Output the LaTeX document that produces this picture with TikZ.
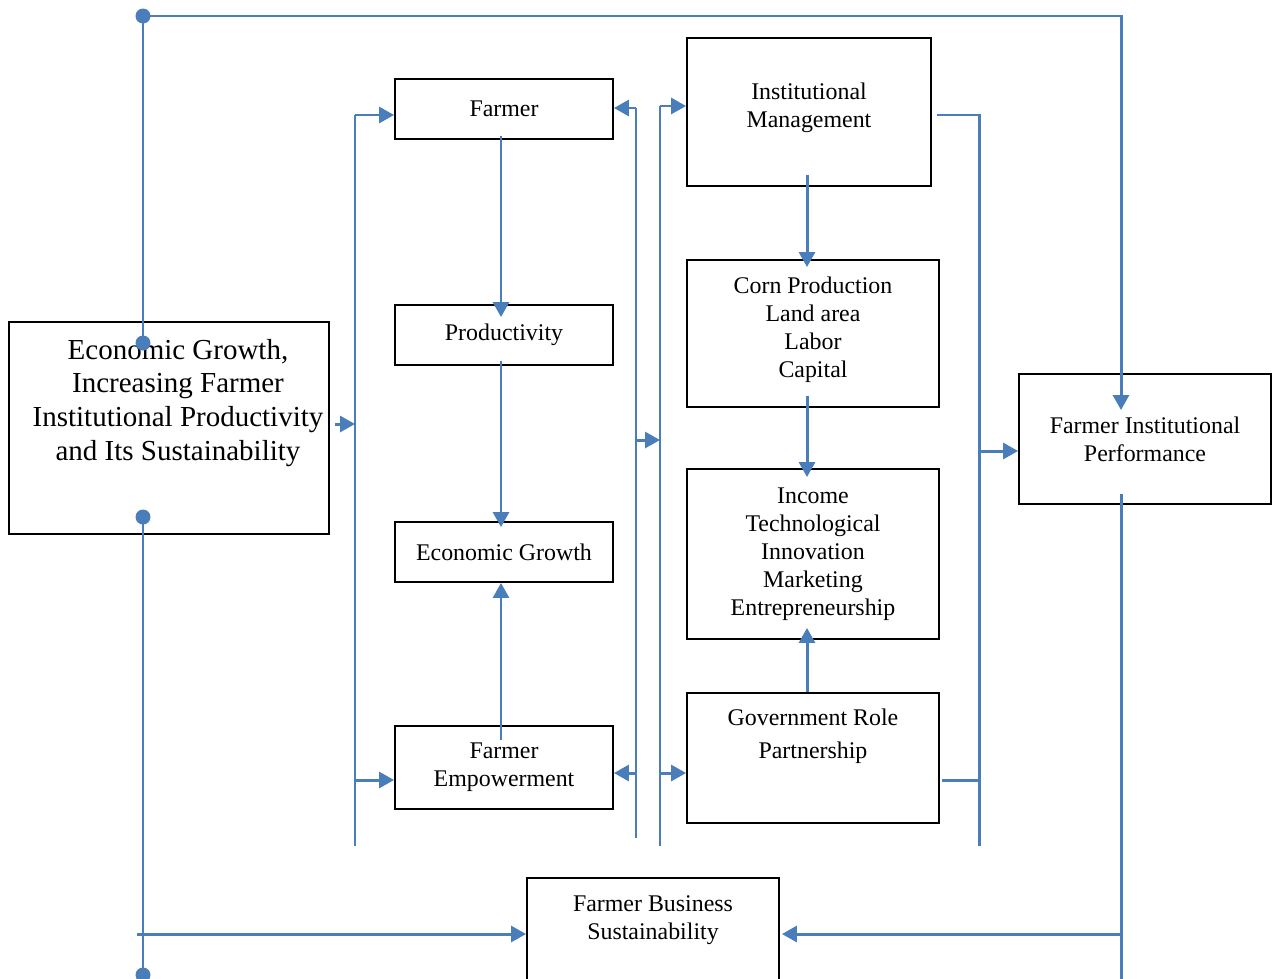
\documentclass[tikz,border=0pt]{standalone}
\usepackage{fontspec}
\setmainfont{Liberation Serif}
\usepackage{xcolor}
\usetikzlibrary{arrows.meta,positioning}
\definecolor{linkblue}{RGB}{74,126,187}

\begin{document}
\begin{tikzpicture}[x=0.02cm, y=-0.02cm,
    box/.style={draw, line width=1.1pt, align=center,
                font=\fontsize{13.6}{16}\selectfont,
                minimum width=5.04cm, inner sep=2pt},
    smallbox/.style={box, minimum width=4.36cm, minimum height=1.2cm},
    txt/.style={align=center, font=\fontsize{13.6}{16}\selectfont},
    bigtxt/.style={align=center, font=\fontsize{16.5}{19.3}\selectfont},
    link/.style={linkblue, line width=1.7pt},
    arr/.style={link, -{Triangle[length=0.3cm,width=0.32cm]}},
    dot/.style={fill=linkblue}
]
\useasboundingbox (0,0) rectangle (1272,978);

% boxes
\node[box, minimum width=6.4cm, minimum height=4.24cm,
      label={[bigtxt, xshift=0.18cm, yshift=0.5cm]center:{Economic Growth,\\Increasing Farmer\\Institutional Productivity\\and Its Sustainability}}]
      (goal) at (169,428) {};
\node[smallbox] (farmer) at (504,109) {Farmer};
\node[smallbox] (prod) at (504,335) {Productivity};
\node[smallbox] (econ) at (504,552) {Economic Growth};
\node[smallbox, minimum height=1.66cm] (empow) at (504,767.5) {Farmer\\Empowerment};
\node[box, minimum width=4.88cm, minimum height=2.96cm,
      label={[txt, yshift=0.08cm]center:{Institutional\\Management}}]
      (inst) at (809,112) {};
\node[box, minimum height=2.94cm,
      label={[txt, yshift=0.08cm]center:{Corn Production\\Land area\\Labor\\Capital}}]
      (corn) at (813,333.5) {};
\node[box, minimum height=3.4cm] (income) at (813,554) {Income\\Technological\\Innovation\\Marketing\\Entrepreneurship};
\node[box, minimum height=2.6cm,
      label={[txt, yshift=0.43cm]center:{Government Role\\[0.1cm]Partnership}}]
      (gov) at (813,758) {};
\node[box, minimum height=2.6cm] (fip) at (1145,439) {Farmer Institutional\\Performance};
\node[box, minimum height=2.24cm,
      label={[txt, yshift=0.28cm]center:{Farmer Business\\Sustainability}}]
      (fbs) at (653,934) {};

% bus and corner points
\coordinate (gtop) at (143,343);
\coordinate (gbot) at (143,517);
\coordinate (tl) at (143,16);
\coordinate (tr) at (1121,16);
\coordinate (fipin) at (1121,410);
\coordinate (bl) at (143,975);
\coordinate (bls) at (137,934);
\coordinate (brt) at (1121,494);
\coordinate (brb) at (1121,985);
\coordinate (lbt) at (355,115);
\coordinate (lbb) at (355,846);
\coordinate (mlt) at (636,108);
\coordinate (mlb) at (636,838);
\coordinate (mrt) at (660,106);
\coordinate (mrb) at (660,846);
\coordinate (rbt) at (979,115);
\coordinate (rbb) at (979,846);

% outer loop
\draw[arr] (gtop) -- (tl) -- (tr) -- (fipin);
\draw[link] (gbot) -- (bl);
\draw[arr] (bls) -- (bls -| fbs.west);
\draw[link] (brt) -- (brb);
\draw[arr] (brt |- fbs.east) -- ([xshift=0.04cm]fbs.east);
\fill[dot] (tl) circle (0.15cm);
\fill[dot] (gtop) circle (0.15cm);
\fill[dot] (gbot) circle (0.15cm);
\fill[dot] (bl) circle (0.15cm);

% left bus
\draw[arr] ([xshift=0.1cm]goal.east |- 0,424) -- (lbt |- 0,424);
\draw[link] (lbb) -- (lbt);
\draw[arr] (lbt) -- (lbt -| farmer.west);
\draw[arr] (lbb |- 0,780) -- (lbb |- 0,780 -| empow.west);

% left column
\draw[arr] ([xshift=-0.06cm,yshift=0.08cm]farmer.south) -- ([xshift=-0.06cm,yshift=-0.26cm]prod.north);
\draw[arr] ([xshift=-0.06cm,yshift=0.1cm]prod.south) -- ([xshift=-0.06cm,yshift=-0.12cm]econ.north);
\draw[arr] ([xshift=-0.06cm,yshift=-0.3cm]empow.north) -- ([xshift=-0.06cm]econ.south);

% middle buses
\draw[link] (mlb) -- (mlt);
\draw[link] (mrb) -- (mrt);
\draw[arr] (mlt) -- (mlt -| farmer.east);
\draw[arr] (mlt |- 0,773) -- (mlt |- 0,773 -| empow.east);
\draw[arr] (mrt) -- (mrt -| inst.west);
\draw[arr] (mrt |- 0,773) -- (mrt |- 0,773 -| gov.west);
\draw[arr] (mlt |- 0,440) -- (mrt |- 0,440);

% right column
\draw[arr] ([xshift=-0.04cm,yshift=0.24cm]inst.south) -- ([xshift=-0.04cm,yshift=-0.16cm]inst.south |- corn.north);
\draw[arr] ([xshift=-0.12cm,yshift=0.24cm]corn.south) -- ([xshift=-0.12cm,yshift=-0.18cm]income.north);
\draw[arr] ([xshift=-0.12cm]gov.north) -- ([xshift=-0.12cm,yshift=0.24cm]income.south);

% right bus
\draw[link] ([xshift=0.1cm]inst.east |- rbt) -- (rbt) -- (rbb);
\draw[link] ([xshift=0.04cm]gov.east |- 0,780) -- (rbt |- 0,780);
\draw[arr] (rbt |- 0,451) -- (rbt |- 0,451 -| fip.west);
\end{tikzpicture}
\end{document}
